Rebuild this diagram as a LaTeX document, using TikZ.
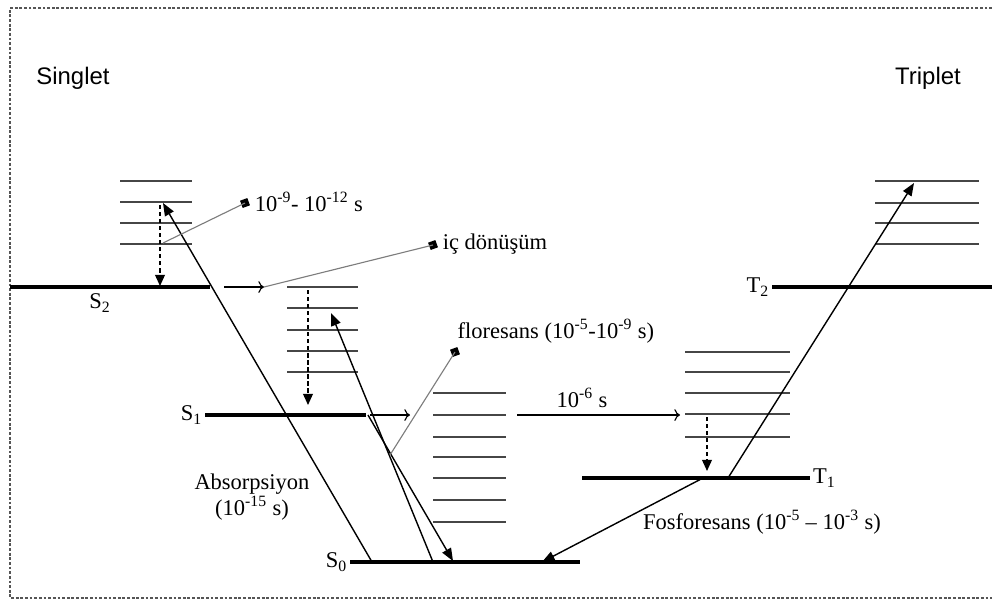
\documentclass[tikz,border=0pt]{standalone}
\usepackage{fontspec}
\setmainfont{Liberation Serif}
\setsansfont{Liberation Sans}
\usetikzlibrary{arrows.meta,positioning,calc}

\definecolor{vibgray}{RGB}{70,70,70}
\definecolor{leadgray}{RGB}{125,125,125}
\definecolor{framegray}{RGB}{85,85,85}

\begin{document}
\begin{tikzpicture}[x=0.025cm,y=-0.025cm,
    level/.style={line width=2.4pt},
    vib/.style={line width=1.5pt, vibgray},
    excite/.style={line width=1pt, -{Triangle[length=9pt,width=7pt]}},
    relax/.style={line width=1.1pt, dash pattern=on 3pt off 2pt, -{Triangle[length=8pt,width=7pt]}},
    hop/.style={line width=0.8pt, -{To[length=4pt]}},
    leader/.style={line width=0.8pt, leadgray},
    tack/.style={fill, inner sep=0pt, minimum size=5.5pt, rotate=20},
    lbl/.style={font=\fontsize{16}{18}\selectfont, inner sep=1pt},
    spin/.style={font=\sffamily\fontsize{17}{19}\selectfont}]
  \useasboundingbox (0,0) rectangle (992,608);

  % frame
  \draw[framegray, line width=1pt, dash pattern=on 2pt off 1.3pt]
    (992,8) -- (10,8) -- (10,598) -- (992,598);

  \node[spin] (singlet) at (73,78) {Singlet};
  \node[spin] (triplet) at (928,78) {Triplet};

  % vibrational levels
  \foreach \y in {181,202,223,244} \draw[vib] (120,\y) -- (192,\y);
  \foreach \y in {287,308,330,351,372} \draw[vib] (287,\y) -- (358,\y);
  \foreach \y in {393,415,437,457,478,500,522} \draw[vib] (433,\y) -- (506,\y);
  \foreach \y in {352,372,393,414,437} \draw[vib] (685,\y) -- (790,\y);
  \foreach \y in {181,203,223,244} \draw[vib] (875,\y) -- (979,\y);

  % electronic levels
  \coordinate (s2L) at (10,287);  \coordinate (s2R) at (210,287);
  \coordinate (s1L) at (205,415); \coordinate (s1R) at (366,415);
  \coordinate (s0L) at (350,562); \coordinate (s0R) at (580,562);
  \coordinate (t1L) at (582,478); \coordinate (t1R) at (810,478);
  \coordinate (t2L) at (772,287); \coordinate (t2R) at (992,287);
  \draw[level] (s2L) -- (s2R);
  \draw[level] (s1L) -- (s1R);
  \draw[level] (s0L) -- (s0R);
  \draw[level] (t1L) -- (t1R);
  \draw[level] (t2L) -- (t2R);

  \node[lbl] (s2lab) at (100,303) {S\textsubscript{2}};
  \node[lbl, left=1pt of s1L] (s1lab) {S\textsubscript{1}};
  \node[lbl, left=1pt of s0L] (s0lab) {S\textsubscript{0}};
  \node[lbl, right=1pt of t1R] (t1lab) {T\textsubscript{1}};
  \node[lbl, left=1pt of t2L] (t2lab) {T\textsubscript{2}};

  % absorption / emission
  \coordinate (abs1s) at (372,562); \coordinate (abs1e) at (163,203);
  \coordinate (abs2s) at (433,562); \coordinate (abs2e) at (331,313);
  \coordinate (abs3s) at (728,478); \coordinate (abs3e) at (914,183);
  \coordinate (flus) at (368,415);  \coordinate (flue) at (453,561);
  \coordinate (phos) at (703,478);  \coordinate (phoe) at (542,562);
  \draw[excite] (abs1s) -- (abs1e);
  \draw[excite] (abs2s) -- (abs2e);
  \draw[excite] (abs3s) -- (abs3e);
  \draw[excite] (flus) -- (flue);
  \draw[excite] (phos) -- (phoe);

  % vibrational relaxation
  \coordinate (vr1s) at (160,205); \coordinate (vr1e) at (160,286);
  \coordinate (vr2s) at (308,290); \coordinate (vr2e) at (308,405);
  \coordinate (vr3s) at (707,417); \coordinate (vr3e) at (707,471);
  \draw[relax] (vr1s) -- (vr1e);
  \draw[relax] (vr2s) -- (vr2e);
  \draw[relax] (vr3s) -- (vr3e);

  % crossings
  \coordinate (ic1s) at (224,287); \coordinate (ic1e) at (264,287);
  \coordinate (ic2s) at (370,415); \coordinate (ic2e) at (410,415);
  \coordinate (iscs) at (517,415); \coordinate (isce) at (680,415);
  \draw[hop] (ic1s) -- (ic1e);
  \draw[hop] (ic2s) -- (ic2e);
  \draw[hop] (iscs) -- (isce);

  % callouts
  \node[tack] (d1) at (245,203) {};
  \node[tack] (d2) at (433,245) {};
  \node[tack] (d3) at (455,352) {};
  \coordinate (d1foot) at (163,243);
  \coordinate (d3foot) at (390,455);
  \draw[leader] (d1foot) -- (d1.center);
  \draw[leader] (ic1e) -- (d2.center);
  \draw[leader] (d3foot) -- (d3.center);

  \node[lbl, right=3pt of d1] (vrtime) {10\textsuperscript{-9}- 10\textsuperscript{-12} s};
  \node[lbl, right=3pt of d2] (iclab) {iç dönüşüm};
  \node[lbl, anchor=west] (fllab) at (456,331) {floresans (10\textsuperscript{-5}-10\textsuperscript{-9} s)};
  \node[lbl] (isctime) at (582,398) {10\textsuperscript{-6} s};
  \node[lbl, align=center] (abslab) at (252,497) {Absorpsiyon\\(10\textsuperscript{-15} s)};
  \node[lbl] (pholab) at (762,522) {Fosforesans (10\textsuperscript{-5} -- 10\textsuperscript{-3} s)};
\end{tikzpicture}
\end{document}
